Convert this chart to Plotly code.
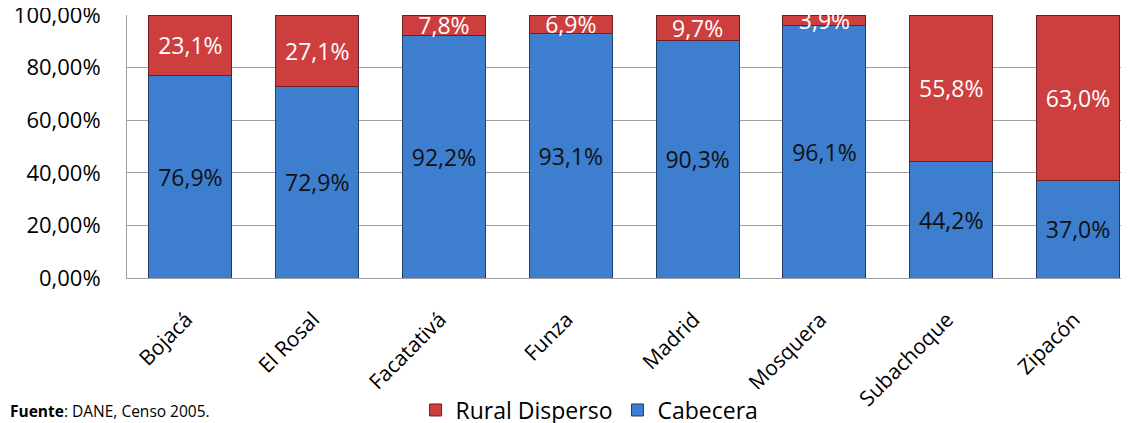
import plotly.graph_objects as go

municipios = ["Bojacá", "El Rosal", "Facatativá", "Funza", "Madrid", "Mosquera", "Subachoque", "Zipacón"]
cabecera = [76.9, 72.9, 92.2, 93.1, 90.3, 96.1, 44.2, 37.0]
rural = [23.1, 27.1, 7.8, 6.9, 9.7, 3.9, 55.8, 63.0]
y_ticks = [0, 20, 40, 60, 80, 100]
y_ticktext = [f"{v:.2f}%".replace(".", ",") for v in y_ticks]

FONT = "Open Sans"

fig = go.Figure()
fig.add_trace(go.Bar(
    x=municipios, y=cabecera, name="Cabecera",
    marker=dict(color="#3E7ECE", line=dict(color="#1F3F66", width=1)),
    texttemplate="%{y:.1f}%", textposition="inside", insidetextanchor="middle",
    textfont=dict(color="#111111", size=23, family=FONT), width=0.655,
))
fig.add_trace(go.Bar(
    x=municipios, y=rural, name="Rural Disperso",
    marker=dict(color="#CD3E3E", line=dict(color="#6E1F1F", width=1)),
    texttemplate="%{y:.1f}%", textposition="inside", insidetextanchor="middle",
    textfont=dict(color="white", size=23, family=FONT), width=0.655,
))

fig.update_layout(
    barmode="stack",
    separators=",.",
    width=1129, height=423,
    margin=dict(l=119, r=0, t=7, b=153, autoexpand=False),
    paper_bgcolor="white", plot_bgcolor="white",
    font=dict(family=FONT, size=20, color="black"),
    uniformtext=dict(minsize=23, mode="show"),
    showlegend=True,
    legend=dict(orientation="h", traceorder="reversed",
                xref="container", yref="container",
                x=0.361, xanchor="left", y=0.0496, yanchor="middle",
                font=dict(size=23, family=FONT), itemwidth=30),
    xaxis=dict(range=[-0.5, 7.465], tickangle=-45, showgrid=False,
               showline=True, linecolor="#A0A0A0", linewidth=1,
               ticks="", ticklabelstandoff=20, ticklabelshift=-4,
               automargin=False,
               tickfont=dict(size=21, family=FONT)),
    yaxis=dict(range=[0, 100], tickvals=y_ticks, ticktext=y_ticktext,
               showgrid=True, gridcolor="#A0A0A0", gridwidth=1,
               showline=True, linecolor="#A0A0A0", linewidth=1, mirror=False,
               ticks="", ticklabelstandoff=21, automargin=False,
               ticklabeloverflow="allow",
               tickfont=dict(size=22, family=FONT), zeroline=False),
)

fig.add_annotation(
    text="<b>Fuente</b>: DANE, Censo 2005.",
    xref="paper", yref="paper", x=-0.1176, y=-0.5057,
    xanchor="left", yanchor="middle", showarrow=False,
    font=dict(size=15.5, family=FONT, color="black"),
)

fig.write_html("out.html")
